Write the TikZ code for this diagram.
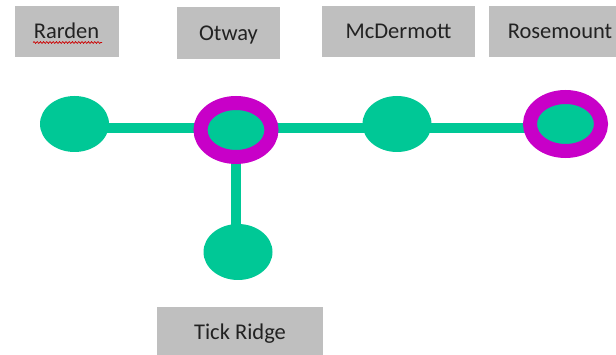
\documentclass[tikz,border=0pt]{standalone}
\usepackage{fontspec}
\setmainfont{Carlito}
\usetikzlibrary{shapes.geometric,backgrounds,decorations.pathmorphing}
\definecolor{stgreen}{HTML}{00C896}
\definecolor{stmag}{HTML}{C800C8}
\definecolor{boxgray}{HTML}{BFBFBF}
\definecolor{txt}{HTML}{222222}
\tikzset{
  namebox/.style={fill=boxgray, inner sep=0pt, text height=14.5pt, text depth=0pt,
    text=txt, font=\fontsize{22.5}{27}\selectfont},
  stop/.style={ellipse, fill=stgreen, inner sep=0pt, minimum width=69pt, minimum height=56pt},
  hub/.style={ellipse, fill=stgreen, draw=stmag, line width=14pt, inner sep=0pt,
    minimum width=71pt, minimum height=54pt},
  link/.style={draw=stgreen, line width=10pt},
  squiggle/.style={draw=red!80!black, line width=0.7pt,
    decorate, decoration={snake, segment length=3.2pt, amplitude=0.9pt}}
}
\begin{document}
\begin{tikzpicture}[x=1pt,y=-1pt]
\clip (0,0) rectangle (616,355);
% name boxes
\node[namebox, minimum width=104pt, minimum height=51pt] (lrarden) at (66.5,31.5) {Rarden};
\node[namebox, minimum width=103pt, minimum height=52pt] (lotway) at (228.5,33) {Otway};
\node[namebox, minimum width=153pt, minimum height=51pt] (lmcd) at (398.5,31.5) {McDermott};
\node[namebox, minimum width=142pt, minimum height=51pt] (lrose) at (560,31.5) {Rosemount};
\node[namebox, minimum width=166pt, minimum height=51pt] (ltick) at (240,332.5) {Tick Ridge};
% spell-check squiggle
\coordinate (sqa) at (33,42.5);
\coordinate (sqb) at (102,42.5);
\draw[squiggle] (sqa) -- (sqb);
% stations
\node[stop] (rarden) at (74.5,124) {};
\node[hub] (otway) at (236,130) {};
\node[stop] (mcd) at (397,124) {};
\node[hub] (rose) at (565.5,124) {};
\node[stop] (tick) at (238,252) {};
\coordinate (hline) at (0,128);
\begin{scope}[on background layer]
\draw[link] (rarden.center |- hline) -- (otway.center |- hline);
\draw[link] (otway.center |- hline) -- (mcd.center |- hline);
\draw[link] (mcd.center |- hline) -- (rose.center |- hline);
\draw[link] (otway.center) -- (otway.center |- tick.center);
\end{scope}
\end{tikzpicture}
\end{document}
